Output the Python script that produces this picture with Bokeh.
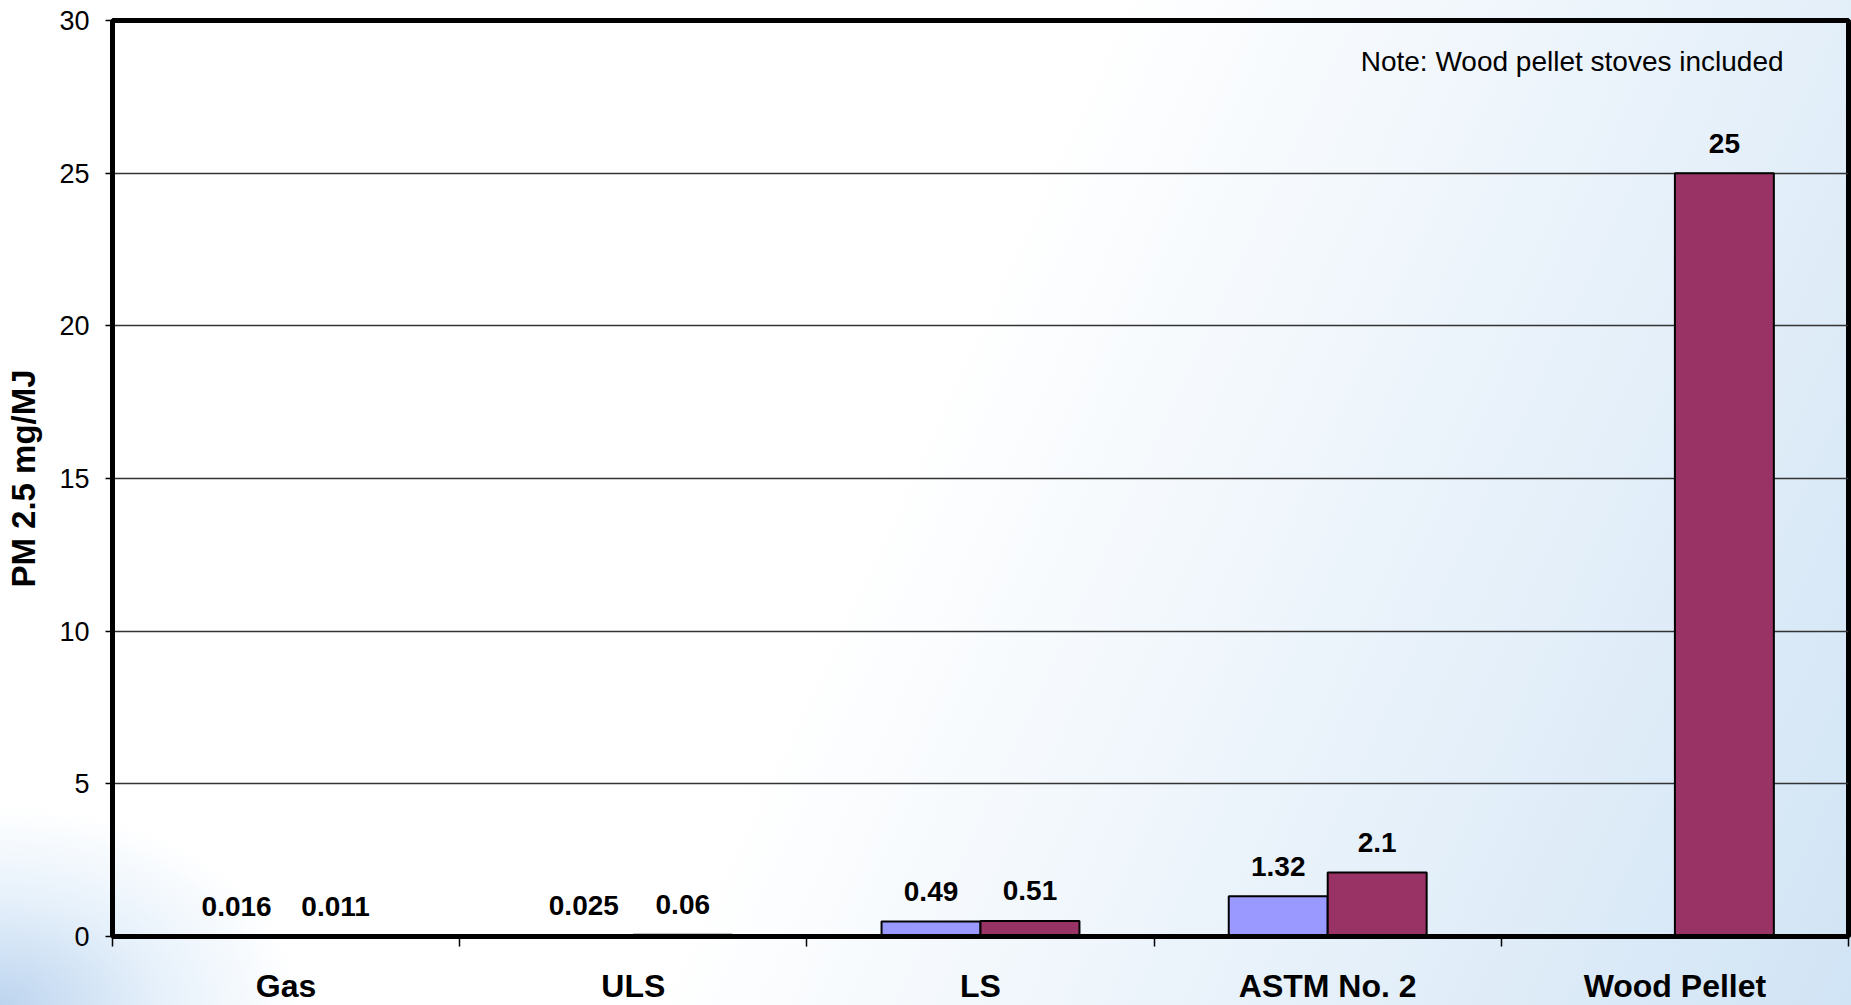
import numpy as np
from bokeh.plotting import figure
from bokeh.models import FixedTicker, Label, ColumnDataSource, Range1d
from bokeh.core.properties import value
from bokeh.embed import file_html
from bokeh.resources import INLINE

# ---- data ----
categories = ["Gas", "ULS", "LS", "ASTM No. 2", "Wood Pellet"]
series_blue = [0.016, 0.025, 0.49, 1.32, float("nan")]
series_maroon = [0.011, 0.06, 0.51, 2.1, 25]
y_ticks = [0, 5, 10, 15, 20, 25, 30]
note_text = "Note: Wood pellet stoves included"
y_label = "PM 2.5 mg/MJ"

FONT = "Liberation Sans"
BLUE = "#9999FF"
MAROON = "#993366"
BAR_W = 0.285

centers = np.arange(len(categories)) + 0.5
bounds = list(np.arange(len(categories) + 1).astype(float))

p = figure(
    frame_width=1736, frame_height=916,
    x_range=Range1d(0, len(categories)), y_range=Range1d(0, 30),
    output_backend="svg", toolbar_location=None,
    min_border_left=112, min_border_top=20, min_border_right=3, min_border_bottom=61,
)
p.styles = {
    "background-image": (
        "radial-gradient(ellipse 300px 200px at 0% 100%, rgba(185,210,238,0.95) 0%, "
        "rgba(215,232,248,0.6) 55%, rgba(255,255,255,0) 100%), "
        "linear-gradient(115deg, #ffffff 0%, #ffffff 48%, #d1e4f5 100%)"
    )
}
p.background_fill_color = None
p.border_fill_color = None
p.outline_line_color = "black"
p.outline_line_width = 5

def build(vals, offset, color):
    xs, ys, txt = [], [], []
    for c, v in zip(centers, vals):
        if v is None or (isinstance(v, float) and np.isnan(v)):
            continue
        xs.append(c + offset)
        ys.append(v)
        txt.append("{:g}".format(v))
    src = ColumnDataSource(dict(x=xs, top=ys, label=txt))
    p.vbar(x="x", top="top", bottom=0, width=BAR_W, source=src,
           fill_color=color, line_color="black", line_width=2)
    p.text(x="x", y="top", text="label", source=src,
           text_font=value(FONT), text_font_style="bold", text_font_size="28px",
           text_align="center", text_baseline="middle", y_offset=-30, text_color="black")

build(series_blue, -BAR_W / 2, BLUE)
build(series_maroon, BAR_W / 2, MAROON)

# grid
p.xgrid.visible = False
p.ygrid.ticker = FixedTicker(ticks=y_ticks)
p.ygrid.grid_line_color = "#333333"
p.ygrid.grid_line_width = 1.3

# y axis
yax = p.yaxis[0]
yax.ticker = FixedTicker(ticks=y_ticks)
yax.axis_line_width = 5
yax.axis_line_color = "black"
yax.major_tick_out = 7
yax.major_tick_in = 0
yax.major_tick_line_width = 1.5
yax.minor_tick_line_color = None
yax.major_label_text_font = FONT
yax.major_label_text_font_size = "27px"
yax.major_label_text_color = "black"
yax.major_label_standoff = 16
yax.axis_label = y_label
yax.axis_label_text_font = FONT
yax.axis_label_text_font_style = "bold"
yax.axis_label_text_font_size = "33px"
yax.axis_label_text_color = "black"
yax.axis_label_standoff = 14

# x axis
xax = p.xaxis[0]
xax.ticker = FixedTicker(ticks=list(centers), minor_ticks=bounds)
xax.major_label_overrides = {float(c): n for c, n in zip(centers, categories)}
xax.axis_line_width = 5
xax.axis_line_color = "black"
xax.major_tick_line_color = None
xax.major_tick_out = 0
xax.major_tick_in = 0
xax.minor_tick_out = 10
xax.minor_tick_in = 0
xax.minor_tick_line_width = 1.5
xax.minor_tick_line_color = "black"
xax.major_label_text_font = FONT
xax.major_label_text_font_style = "bold"
xax.major_label_text_font_size = "32px"
xax.major_label_text_color = "black"
xax.major_label_standoff = 21

p.add_layout(Label(x=4.813, y=28.66, text=note_text, text_font=FONT,
                   text_font_size="28px", text_align="right", text_baseline="middle",
                   text_color="black"))

open("out.html", "w").write(file_html(p, INLINE))
